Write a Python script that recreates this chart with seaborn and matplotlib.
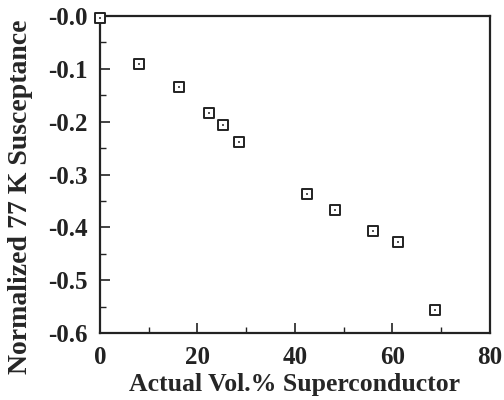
import matplotlib
matplotlib.use("Agg")
import matplotlib.pyplot as plt
import seaborn as sns
import pandas as pd
from matplotlib.ticker import MultipleLocator

# data
vol_pct = [0.0, 8.0, 16.2, 22.4, 25.2, 28.5, 42.5, 48.2, 56.0, 61.1, 68.7]
suscept = [-0.003, -0.091, -0.134, -0.184, -0.206, -0.238, -0.337, -0.367, -0.407, -0.428, -0.557]
y_ticks = [0.0, -0.1, -0.2, -0.3, -0.4, -0.5, -0.6]
y_tick_labels = ["-0.0", "-0.1", "-0.2", "-0.3", "-0.4", "-0.5", "-0.6"]

df = pd.DataFrame({"vol": vol_pct, "chi": suscept})

sns.set_style("ticks")
plt.rcParams["font.family"] = ["Liberation Serif", "DejaVu Serif"]
plt.rcParams["font.weight"] = "bold"

fig = plt.figure(figsize=(5.04, 4.0), dpi=100)
ax = fig.add_axes([0.198, 0.1675, 0.774, 0.7925])

sns.scatterplot(data=df, x="vol", y="chi", marker="s", s=45,
                facecolor="white", edgecolor="#222222", linewidth=1.4,
                clip_on=False, zorder=5, ax=ax)
sns.scatterplot(data=df, x="vol", y="chi", marker="s", s=4,
                color="#555555", linewidth=0, clip_on=False, zorder=6, ax=ax)

ax.set_xlim(0, 80)
ax.set_ylim(-0.6, 0.0)
ax.xaxis.set_major_locator(MultipleLocator(20))
ax.xaxis.set_minor_locator(MultipleLocator(10))
ax.yaxis.set_minor_locator(MultipleLocator(0.05))
ax.set_yticks(y_ticks)
ax.set_yticklabels(y_tick_labels)

ax.tick_params(which="both", direction="in", top=False, right=False, color="#222222")
ax.tick_params(which="major", length=7, width=1.2, labelsize=18, pad=9)
ax.tick_params(which="minor", length=4, width=1.0)
for sp in ax.spines.values():
    sp.set_linewidth(1.6)
    sp.set_color("#222222")

ax.set_xlabel("Actual Vol.% Superconductor", fontsize=18.5, fontweight="bold", labelpad=3)
ax.set_ylabel("Normalized 77 K Susceptance", fontsize=20, fontweight="bold")
ax.yaxis.set_label_coords(-0.17, 0.43)
for lab in ax.get_xticklabels() + ax.get_yticklabels():
    lab.set_fontweight("bold")
    lab.set_color("#222222")

fig.savefig("out.png", dpi=100)
